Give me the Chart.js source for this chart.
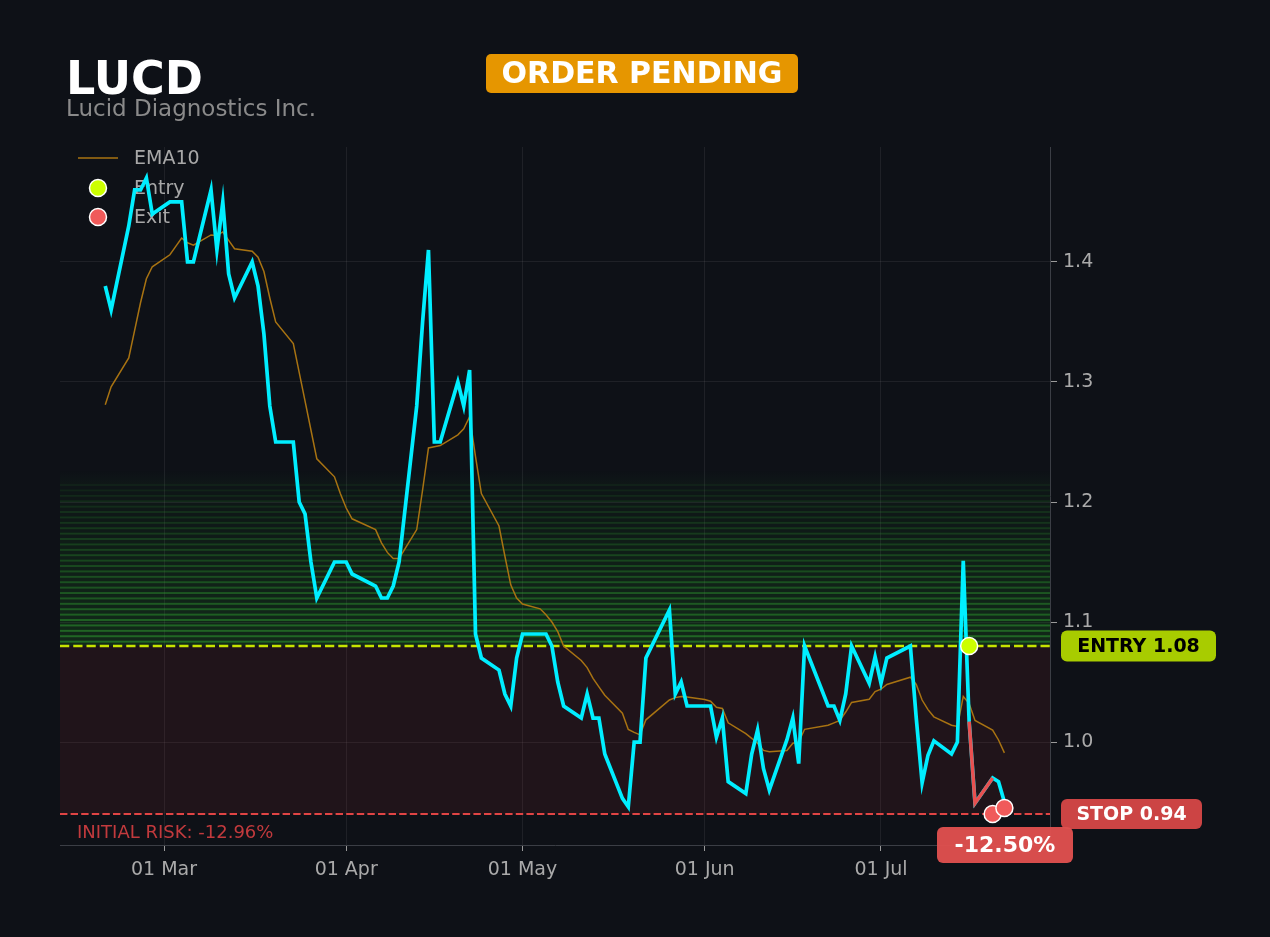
<!DOCTYPE html>
<html>
<head>
<meta charset="utf-8">
<title>LUCD</title>
<script src="https://cdn.jsdelivr.net/npm/chart.js@4.4.1/dist/chart.umd.min.js"></script>
<style>
  html, body { margin: 0; padding: 0; background: #0e1117; }
  #wrap { width: 1270px; height: 937px; position: relative; }
</style>
</head>
<body>
<div id="wrap"><canvas id="priceChart"></canvas></div>
<script>
// trading days shown on the chart
const dates = [
  '2026-02-19','2026-02-20','2026-02-23','2026-02-24','2026-02-25','2026-02-26','2026-02-27',
  '2026-03-02','2026-03-03','2026-03-04','2026-03-05','2026-03-06',
  '2026-03-09','2026-03-10','2026-03-11','2026-03-12','2026-03-13',
  '2026-03-16','2026-03-17','2026-03-18','2026-03-19','2026-03-20',
  '2026-03-23','2026-03-24','2026-03-25','2026-03-26','2026-03-27',
  '2026-03-30','2026-03-31','2026-04-01','2026-04-02',
  '2026-04-06','2026-04-07','2026-04-08','2026-04-09','2026-04-10',
  '2026-04-13','2026-04-14','2026-04-15','2026-04-16','2026-04-17',
  '2026-04-20','2026-04-21','2026-04-22','2026-04-23','2026-04-24',
  '2026-04-27','2026-04-28','2026-04-29','2026-04-30','2026-05-01',
  '2026-05-04','2026-05-05','2026-05-06','2026-05-07','2026-05-08',
  '2026-05-11','2026-05-12','2026-05-13','2026-05-14','2026-05-15',
  '2026-05-18','2026-05-19','2026-05-20','2026-05-21','2026-05-22',
  '2026-05-26','2026-05-27','2026-05-28','2026-05-29',
  '2026-06-01','2026-06-02','2026-06-03','2026-06-04','2026-06-05',
  '2026-06-08','2026-06-09','2026-06-10','2026-06-11','2026-06-12',
  '2026-06-15','2026-06-16','2026-06-17','2026-06-18',
  '2026-06-22','2026-06-23','2026-06-24','2026-06-25','2026-06-26',
  '2026-06-29','2026-06-30','2026-07-01','2026-07-02',
  '2026-07-06','2026-07-07','2026-07-08','2026-07-09','2026-07-10',
  '2026-07-13','2026-07-14','2026-07-15','2026-07-16','2026-07-17',
  '2026-07-20','2026-07-21','2026-07-22'
];

// closing prices
const closes = [
  1.38, 1.36, 1.43, 1.46, 1.46, 1.47, 1.44,
  1.45, 1.45, 1.45, 1.40, 1.40,
  1.46, 1.41, 1.45, 1.39, 1.37,
  1.40, 1.38, 1.34, 1.28, 1.25,
  1.25, 1.20, 1.19, 1.15, 1.12,
  1.15, 1.15, 1.15, 1.14,
  1.13, 1.12, 1.12, 1.13, 1.15,
  1.28, 1.35, 1.41, 1.25, 1.25,
  1.30, 1.28, 1.31, 1.09, 1.07,
  1.06, 1.04, 1.03, 1.07, 1.09,
  1.09, 1.09, 1.08, 1.05, 1.03,
  1.02, 1.04, 1.02, 1.02, 0.99,
  0.953, 0.946, 1.00, 1.00, 1.07,
  1.11, 1.04, 1.05, 1.03,
  1.03, 1.03, 1.004, 1.02, 0.967,
  0.957, 0.99, 1.01, 0.978, 0.96,
  1.002, 1.02, 0.982, 1.08,
  1.03, 1.03, 1.018, 1.04, 1.08,
  1.049, 1.071, 1.049, 1.07,
  1.08, 1.02, 0.966, 0.989, 1.001,
  0.99, 1.00, 1.151, 1.017, 0.949,
  0.97, 0.967, 0.95
];

// EMA10
const ema10 = [
  1.281, 1.296, 1.32, 1.343, 1.366, 1.386, 1.396,
  1.406, 1.413, 1.42, 1.416, 1.414,
  1.4225, 1.422, 1.425, 1.418, 1.411,
  1.409, 1.404, 1.392, 1.37, 1.35,
  1.332, 1.308, 1.284, 1.26, 1.236,
  1.221, 1.207, 1.195, 1.186,
  1.177, 1.166, 1.158, 1.153, 1.153,
  1.177, 1.21, 1.245, 1.246, 1.247,
  1.256, 1.261, 1.271, 1.238, 1.207,
  1.18, 1.155, 1.131, 1.12, 1.115,
  1.111, 1.106, 1.10, 1.092, 1.08,
  1.068, 1.062, 1.053, 1.046, 1.039,
  1.024, 1.0105, 1.008, 1.006, 1.0185,
  1.035, 1.037, 1.038, 1.0375,
  1.0355, 1.034, 1.029, 1.028, 1.016,
  1.007, 1.003, 0.999, 0.993, 0.992,
  0.993, 0.999, 1.00, 1.0106,
  1.014, 1.016, 1.018, 1.025, 1.033,
  1.0356, 1.042, 1.044, 1.048,
  1.054, 1.048, 1.035, 1.027, 1.021,
  1.014, 1.013, 1.038, 1.032, 1.018,
  1.01, 1.0017, 0.991
];

// axis ticks
const tickDates = ['2026-03-01', '2026-04-01', '2026-05-01', '2026-06-01', '2026-07-01'];
const tickLabels = ['01 Mar', '01 Apr', '01 May', '01 Jun', '01 Jul'];
const priceTicks = [1.0, 1.1, 1.2, 1.3, 1.4];

// trade
const entryDate = '2026-07-16';
const entryPrice = 1.08;
const exitDates = ['2026-07-20', '2026-07-22'];
const exitPrices = [0.94, 0.945];
const stopPrice = 0.94;
const targetTop = 1.215;
const initialRisk = '-12.96%';
const tradeResult = '-12.50%';

const ticker = 'LUCD';
const companyName = 'Lucid Diagnostics Inc.';
const orderStatus = 'ORDER PENDING';

// dates -> days from 1 Mar
const base = Date.parse('2026-03-01');
function dayNum(s) { return (Date.parse(s) - base) / 86400000; }

const closePts = dates.map((d, i) => ({ x: dayNum(d), y: closes[i] }));
const emaPts = dates.map((d, i) => ({ x: dayNum(d), y: ema10[i] }));
const tradePts = dates
  .map((d, i) => ({ d: d, x: dayNum(d), y: closes[i] }))
  .filter(p => p.d >= entryDate && p.d <= exitDates[0])
  .map(p => ({ x: p.x, y: p.y }));

const FONT = '"DejaVu Sans", "Liberation Sans", sans-serif';
const EMA_COLOR = '#a87312';
const ENTRY_COLOR = '#ccff00';
const EXIT_COLOR = '#f05a5a';

function roundBox(ctx, x, y, w, h, r, color) {
  ctx.fillStyle = color;
  ctx.beginPath();
  ctx.roundRect(x, y, w, h, r);
  ctx.fill();
}

function marker(ctx, x, y, color) {
  ctx.beginPath();
  ctx.arc(x, y, 8.5, 0, Math.PI * 2);
  ctx.fillStyle = color;
  ctx.fill();
  ctx.lineWidth = 1.5;
  ctx.strokeStyle = '#ffffff';
  ctx.stroke();
}

// zones, dashed levels, legend (under the lines) and the labels on top
const decorations = {
  id: 'decorations',
  beforeDatasetsDraw(chart) {
    const { ctx, chartArea: a, scales: { y } } = chart;
    const w = a.right - a.left;
    ctx.save();

    const yEntry = y.getPixelForValue(entryPrice);
    const yStop = y.getPixelForValue(stopPrice);

    // risk zone
    ctx.fillStyle = 'rgba(140,40,50,0.15)';
    ctx.fillRect(a.left, yEntry, w, yStop - yEntry);

    // target zone, striped and fading upwards
    const n = 30;
    const step = (targetTop - entryPrice) / n;
    for (let i = 0; i < n; i++) {
      const p0 = y.getPixelForValue(entryPrice + i * step);
      const p1 = y.getPixelForValue(entryPrice + (i + 1) * step);
      const f = 1 - 0.85 * i / n;
      ctx.fillStyle = 'rgba(34,139,34,' + (0.2 * f) + ')';
      ctx.fillRect(a.left, p1, w, p0 - p1);
      ctx.fillStyle = 'rgba(50,170,50,' + (0.5 * f) + ')';
      ctx.fillRect(a.left, p1, w, 2);
    }
    // soft fade above the stripes
    const g = ctx.createLinearGradient(0, y.getPixelForValue(targetTop) - 14, 0, y.getPixelForValue(targetTop));
    g.addColorStop(0, 'rgba(34,139,34,0)');
    g.addColorStop(1, 'rgba(34,139,34,0.05)');
    ctx.fillStyle = g;
    ctx.fillRect(a.left, y.getPixelForValue(targetTop) - 14, w, 14);

    // entry / stop lines
    ctx.setLineDash([9.25, 4]);
    ctx.lineWidth = 2.5;
    ctx.strokeStyle = '#c6e400';
    ctx.beginPath();
    ctx.moveTo(a.left, yEntry);
    ctx.lineTo(a.right, yEntry);
    ctx.stroke();

    ctx.setLineDash([7.4, 3.2]);
    ctx.lineWidth = 2;
    ctx.strokeStyle = '#e04444';
    ctx.beginPath();
    ctx.moveTo(a.left, yStop);
    ctx.lineTo(a.right, yStop);
    ctx.stroke();
    ctx.setLineDash([]);

    // legend
    const lx = a.left, ly = a.top;
    ctx.strokeStyle = EMA_COLOR;
    ctx.lineWidth = 1.5;
    ctx.beginPath();
    ctx.moveTo(lx + 18, ly + 11);
    ctx.lineTo(lx + 58, ly + 11);
    ctx.stroke();
    marker(ctx, lx + 38, ly + 41, ENTRY_COLOR);
    marker(ctx, lx + 38, ly + 70, EXIT_COLOR);
    ctx.font = '19px ' + FONT;
    ctx.fillStyle = '#a8a8a8';
    ctx.textBaseline = 'middle';
    ctx.textAlign = 'left';
    ctx.fillText('EMA10', lx + 74, ly + 12);
    ctx.fillText('Entry', lx + 74, ly + 42);
    ctx.fillText('Exit', lx + 74, ly + 71);

    // initial risk note
    ctx.font = '18px ' + FONT;
    ctx.fillStyle = '#c23a3d';
    ctx.textBaseline = 'alphabetic';
    ctx.fillText('INITIAL RISK: ' + initialRisk, a.left + 17, yStop + 24);

    ctx.restore();
  },
  afterDraw(chart) {
    const { ctx, chartArea: a, scales: { y } } = chart;
    ctx.save();

    // header
    ctx.textAlign = 'left';
    ctx.textBaseline = 'alphabetic';
    ctx.fillStyle = '#ffffff';
    ctx.font = 'bold 46px ' + FONT;
    ctx.fillText(ticker, 66, 94);
    ctx.fillStyle = '#8a8a8a';
    ctx.font = '23px ' + FONT;
    ctx.fillText(companyName, 66, 116);

    // status badge
    roundBox(ctx, 486, 54, 312, 39, 5, '#e69600');
    ctx.fillStyle = '#ffffff';
    ctx.font = 'bold 30px ' + FONT;
    ctx.textAlign = 'center';
    ctx.textBaseline = 'middle';
    ctx.fillText(orderStatus, 642, 75);

    // level labels on the right
    const yEntry = y.getPixelForValue(entryPrice);
    const yStop = y.getPixelForValue(stopPrice);
    ctx.font = 'bold 19px ' + FONT;
    roundBox(ctx, a.right + 11, yEntry - 15.5, 155, 31, 6, '#a8cc00');
    ctx.fillStyle = '#000000';
    ctx.fillText('ENTRY ' + entryPrice.toFixed(2), a.right + 88.5, yEntry + 1);

    roundBox(ctx, a.right + 11, yStop - 15, 141, 30, 6, '#cc4444');
    ctx.fillStyle = '#ffffff';
    ctx.fillText('STOP ' + stopPrice.toFixed(2), a.right + 81.5, yStop + 1);

    // trade result
    roundBox(ctx, a.right - 113, yStop + 13, 136, 36, 6, 'rgba(222,80,78,0.97)');
    ctx.fillStyle = '#ffffff';
    ctx.font = 'bold 22px ' + FONT;
    ctx.fillText(tradeResult, a.right - 45, yStop + 32);

    ctx.restore();
  }
};

Chart.defaults.font.family = FONT;
Chart.defaults.color = '#aaaaaa';

const ctx = document.getElementById('priceChart').getContext('2d');
const priceChart = new Chart(ctx, {
  type: 'line',
  data: {
    datasets: [
      {
        label: 'Entry',
        data: [{ x: dayNum(entryDate), y: entryPrice }],
        showLine: false,
        pointRadius: 8.5,
        pointBackgroundColor: ENTRY_COLOR,
        pointBorderColor: '#ffffff',
        pointBorderWidth: 1.5,
        order: 0
      },
      {
        label: 'Exit',
        data: exitDates.map((d, i) => ({ x: dayNum(d), y: exitPrices[i] })),
        showLine: false,
        pointRadius: 8.5,
        pointBackgroundColor: EXIT_COLOR,
        pointBorderColor: '#ffffff',
        pointBorderWidth: 1.5,
        order: 0
      },
      {
        label: 'Trade',
        data: tradePts,
        borderColor: '#e85050',
        borderWidth: 3.5,
        pointRadius: 0,
        tension: 0,
        order: 1
      },
      {
        label: 'Close',
        data: closePts,
        borderColor: '#00eeff',
        borderWidth: 3.7,
        pointRadius: 0,
        tension: 0,
        borderJoinStyle: 'miter',
        order: 2
      },
      {
        label: 'EMA10',
        data: emaPts,
        borderColor: EMA_COLOR,
        borderWidth: 1.5,
        pointRadius: 0,
        tension: 0,
        order: 3
      }
    ]
  },
  options: {
    responsive: true,
    maintainAspectRatio: false,
    animation: false,
    layout: { padding: { left: 60, top: 147, right: 0, bottom: 0 } },
    plugins: {
      legend: { display: false },
      tooltip: { enabled: false }
    },
    scales: {
      x: {
        type: 'linear',
        min: -17.7,
        max: 150.76,
        afterBuildTicks: s => { s.ticks = tickDates.map(d => ({ value: dayNum(d) })); },
        afterFit: s => { s.height = 92; },
        ticks: {
          autoSkip: false,
          maxRotation: 0,
          padding: 8,
          color: '#aaaaaa',
          font: { size: 19 },
          callback: (v, i) => tickLabels[i]
        },
        grid: { color: 'rgba(255,255,255,0.07)', tickColor: '#9a9a9a', tickLength: 6 },
        border: { display: true, color: '#3b3e45' }
      },
      y: {
        type: 'linear',
        position: 'right',
        min: 0.9142,
        max: 1.4958,
        afterBuildTicks: s => { s.ticks = priceTicks.map(v => ({ value: v })); },
        afterFit: s => { s.width = 220; },
        ticks: {
          padding: 6,
          color: '#aaaaaa',
          font: { size: 19 },
          callback: v => v.toFixed(1)
        },
        grid: { color: 'rgba(255,255,255,0.07)', tickColor: '#9a9a9a', tickLength: 7 },
        border: { display: true, color: '#3b3e45' }
      }
    }
  },
  plugins: [decorations]
});
</script>
</body>
</html>
